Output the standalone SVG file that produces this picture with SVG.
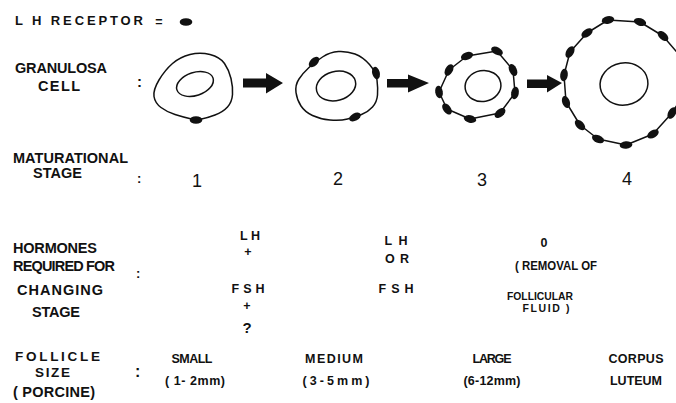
<svg xmlns="http://www.w3.org/2000/svg" width="676" height="403" viewBox="0 0 676 403">
  <style>
    text { font-family: "Liberation Sans", Arial, sans-serif; fill: #111; }
    .lbl { font-size: 14.5px; font-weight: bold; }
    .sm { font-size: 12.5px; font-weight: bold; }
    .num { font-size: 18px; font-weight: normal; }
    .mid { text-anchor: middle; }
    .outline { fill: none; stroke: #111; stroke-width: 1.5; stroke-linejoin: round; }
    .nucleus { fill: none; stroke: #111; stroke-width: 1.5; }
    .rec { fill: #111; }
    .arrow { fill: #111; }
  </style>
  <defs>
    <ellipse id="rcp" class="rec" rx="6.3" ry="3.8"/>
  </defs>
  <rect width="676" height="403" fill="#fff"/>

  <!-- legend -->
  <g id="legend">
    <text class="sm" x="15" y="25" style="font-size:13px" textLength="128" lengthAdjust="spacing">L H RECEPTOR</text>
    <text class="sm mid" x="159" y="26">=</text>
    <use href="#rcp" transform="translate(186,22)"/>
  </g>

  <!-- row labels -->
  <g id="row-labels">
    <text class="lbl" x="15" y="73" textLength="92" lengthAdjust="spacing">GRANULOSA</text>
    <text class="lbl" x="38" y="91" textLength="42" lengthAdjust="spacing">CELL</text>
    <text class="lbl" x="137" y="87" style="font-size:15px">:</text>

    <text class="lbl" x="13" y="163" textLength="115" lengthAdjust="spacing">MATURATIONAL</text>
    <text class="lbl" x="33" y="178" textLength="49" lengthAdjust="spacing">STAGE</text>
    <text class="lbl" x="137" y="183" style="font-size:13px">:</text>

    <text class="lbl" x="13" y="253" textLength="84" lengthAdjust="spacing">HORMONES</text>
    <text class="lbl" x="13" y="271" textLength="102" lengthAdjust="spacing">REQUIRED FOR</text>
    <text class="lbl" x="17" y="295" textLength="86" lengthAdjust="spacing">CHANGING</text>
    <text class="lbl" x="32" y="317" textLength="48" lengthAdjust="spacing">STAGE</text>
    <text class="lbl" x="136" y="278" style="font-size:13px">:</text>

    <text class="lbl" x="15" y="361" style="font-size:13.5px" textLength="85" lengthAdjust="spacing">FOLLICLE</text>
    <text class="lbl" x="35" y="377" style="font-size:13.5px" textLength="35" lengthAdjust="spacing">SIZE</text>
    <text class="lbl" x="13" y="397" textLength="82" lengthAdjust="spacing">( PORCINE)</text>
    <text class="lbl" x="135" y="377" style="font-size:16px">:</text>
  </g>

  <!-- stage 1 cell -->
  <g id="cell-1">
    <path class="outline" d="M159,80 Q165,70 172.5,63.5 Q180,57 190,54.5 Q200,52 210,54.5 Q220,57 224.5,63.5 Q229,70 231,78.5 Q233,87 232.5,94.5 Q232,102 227.5,107 Q223,112 215,115 Q207,118 201.5,119 Q196,120 189.5,118.5 Q183,117 175,114.5 Q167,112 161,107.5 Q155,103 154,96.5 Q153,90 159,80 Z"/>
    <ellipse class="nucleus" cx="195" cy="84" rx="19" ry="11.5" transform="rotate(-18 195 84)"/>
    <use href="#rcp" transform="translate(196,120)"/>
  </g>

  <!-- stage 2 cell -->
  <g id="cell-2">
    <path class="outline" d="M322.5,57 Q330,52 338.5,51.5 Q347,51 355,54 Q363,57 369.5,64.5 Q376,72 377,80 Q378,88 377.5,95 Q377,102 372.5,107 Q368,112 361.5,114.5 Q355,117 347.5,119 Q340,121 330,120 Q320,119 312.5,115.5 Q305,112 301,106 Q297,100 296,92.5 Q295,85 299,79 Q303,73 309,67.5 Q315,62 322.5,57 Z"/>
    <ellipse class="nucleus" cx="336" cy="86" rx="20" ry="14.5" transform="rotate(-15 336 86)"/>
    <use href="#rcp" transform="translate(314,62) rotate(-44)"/>
    <use href="#rcp" transform="translate(376,73) rotate(75)"/>
    <use href="#rcp" transform="translate(355,117) rotate(-28)"/>
  </g>

  <!-- stage 3 cell -->
  <g id="cell-3">
    <polygon class="outline" points="449,70 467,56 497,51 513,70 515,93 500,113 470,119 447,109 439,92"/>
    <ellipse class="nucleus" cx="483" cy="86" rx="18" ry="15.5" transform="rotate(-10 483 86)"/>
    <use href="#rcp" transform="translate(467,56) rotate(-20)"/>
    <use href="#rcp" transform="translate(497,51) rotate(28)"/>
    <use href="#rcp" transform="translate(513,70) rotate(65)"/>
    <use href="#rcp" transform="translate(515,93) rotate(-80)"/>
    <use href="#rcp" transform="translate(500,113) rotate(-39)"/>
    <use href="#rcp" transform="translate(470,119) rotate(13)"/>
    <use href="#rcp" transform="translate(447,109) rotate(53)"/>
    <use href="#rcp" transform="translate(439,92) rotate(81)"/>
    <use href="#rcp" transform="translate(449,70) rotate(-61)"/>
  </g>

  <!-- stage 4 cell -->
  <g id="cell-4">
    <polygon class="outline" points="564,75 570,52 587,33 608,20 640,22 663,36 682,58 688,88 672,113 653,134 626,145 598,139 580,125 566,102"/>
    <ellipse class="nucleus" cx="624" cy="84" rx="24" ry="21" transform="rotate(-10 624 84)"/>
    <use href="#rcp" transform="translate(608,20) rotate(-12)"/>
    <use href="#rcp" transform="translate(640,22) rotate(16)"/>
    <use href="#rcp" transform="translate(663,36) rotate(41)"/>
    <use href="#rcp" transform="translate(672,113) rotate(-59)"/>
    <use href="#rcp" transform="translate(653,134) rotate(-31)"/>
    <use href="#rcp" transform="translate(626,145) rotate(-4)"/>
    <use href="#rcp" transform="translate(598,139) rotate(23)"/>
    <use href="#rcp" transform="translate(580,125) rotate(45)"/>
    <use href="#rcp" transform="translate(566,102) rotate(71)"/>
    <use href="#rcp" transform="translate(564,75) rotate(-82)"/>
    <use href="#rcp" transform="translate(570,52) rotate(-59)"/>
    <use href="#rcp" transform="translate(587,33) rotate(-35)"/>
  </g>

  <!-- block arrows between stages -->
  <g id="connectors">
    <polygon class="arrow" points="243,78.5 266,78.5 266,73 283,83 266,93.5 266,87.5 243,87.5"/>
    <polygon class="arrow" points="387,79 408,79 408,74.5 429,83 408,92.5 408,87.5 387,87.5"/>
    <polygon class="arrow" points="527,79.5 547,79.5 547,75 562,83 547,92.5 547,88 527,88"/>
  </g>

  <!-- stage numbers -->
  <g id="stage-numbers">
    <text class="num mid" x="197" y="187">1</text>
    <text class="num mid" x="338" y="185">2</text>
    <text class="num mid" x="482" y="186">3</text>
    <text class="num mid" x="627" y="185">4</text>
  </g>

  <!-- hormones required -->
  <g id="hormones-1">
    <text class="sm mid" x="250" y="240" textLength="20" lengthAdjust="spacing">LH</text>
    <text class="sm mid" x="248" y="256">+</text>
    <text class="sm mid" x="248" y="293" textLength="33" lengthAdjust="spacing">FSH</text>
    <text class="sm mid" x="247" y="310">+</text>
    <text class="sm mid" x="247" y="333" style="font-size:15px">?</text>
  </g>
  <g id="hormones-2">
    <text class="sm mid" x="396" y="245" textLength="23" lengthAdjust="spacing">LH</text>
    <text class="sm mid" x="397" y="263" textLength="24" lengthAdjust="spacing">OR</text>
    <text class="sm mid" x="396" y="293" textLength="35" lengthAdjust="spacing">FSH</text>
  </g>
  <g id="hormones-3">
    <text class="sm mid" x="544" y="247">0</text>
    <text class="sm mid" x="556" y="270" textLength="82" lengthAdjust="spacingAndGlyphs">( REMOVAL OF</text>
    <text class="sm mid" x="540" y="299.5" style="font-size:10.5px" textLength="66" lengthAdjust="spacingAndGlyphs">FOLLICULAR</text>
    <text class="sm mid" x="546" y="311.5" style="font-size:10.5px" textLength="47" lengthAdjust="spacing">FLUID )</text>
  </g>

  <!-- follicle sizes -->
  <g id="sizes">
    <text class="sm mid" x="192" y="363" textLength="41" lengthAdjust="spacing">SMALL</text>
    <text class="sm mid" x="195" y="385" textLength="60" lengthAdjust="spacing">( 1- 2mm)</text>
    <text class="sm mid" x="334" y="363" textLength="58" lengthAdjust="spacing">MEDIUM</text>
    <text class="sm mid" x="336" y="385" textLength="67" lengthAdjust="spacing">(3-5mm)</text>
    <text class="sm mid" x="492" y="363" textLength="39" lengthAdjust="spacing">LARGE</text>
    <text class="sm mid" x="492" y="385" textLength="57" lengthAdjust="spacing">(6-12mm)</text>
    <text class="sm mid" x="636" y="363" textLength="55" lengthAdjust="spacing">CORPUS</text>
    <text class="sm mid" x="636" y="385" textLength="52" lengthAdjust="spacing">LUTEUM</text>
  </g>
</svg>
